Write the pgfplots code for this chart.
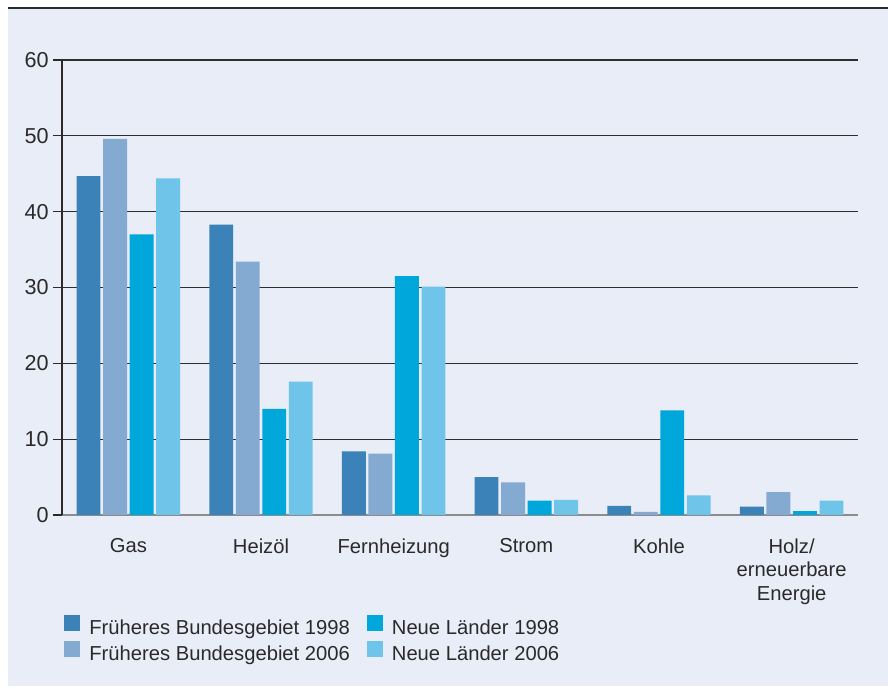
\documentclass[border=0pt]{standalone}
\usepackage{fontspec}
\setmainfont{Liberation Sans}
\usepackage{pgfplots}
\pgfplotsset{compat=1.18}

\definecolor{bg}{HTML}{E9EDF8}
\definecolor{txt}{HTML}{2A2A2A}
\definecolor{gridc}{HTML}{2E2E2E}
\definecolor{basec}{HTML}{8C8C8C}
\definecolor{fbA}{HTML}{3B82B8}
\definecolor{fbB}{HTML}{85AAD2}
\definecolor{nlA}{HTML}{00A7DB}
\definecolor{nlB}{HTML}{6EC5E9}

\newcommand\lbl{\fontsize{10.1}{11.75}\selectfont}
\newcommand\num{\fontsize{10.8}{12}\selectfont}

\begin{document}
\begin{tikzpicture}
\path[use as bounding box] (-31pt,-87pt) rectangle (413pt,257.5pt);
\fill[bg] (-27pt,-85.5pt) rectangle (413pt,253.5pt);
\draw[line width=0.8pt, txt] (-27pt,253.5pt) -- (413pt,253.5pt);
\begin{axis}[
    at={(0pt,0pt)}, anchor=south west,
    scale only axis,
    width=398pt, height=227.5pt,
    ybar,
    xmin=-0.5, xmax=5.5,
    ymin=0, ymax=60,
    xtick={0,1,2,3,4,5},
    xticklabels={Gas, Heizöl, Fernheizung, Strom, Kohle, {Holz/\\erneuerbare\\Energie}},
    ytick={0,10,20,30,40,50,60},
    axis x line=bottom, axis y line=left,
    x axis line style={-, color=basec, line width=1.1pt},
    y axis line style={-, color=txt, line width=0.6pt},
    xtick style={draw=none},
    ytick style={color=txt, line width=0.6pt},
    tick align=outside,
    major tick length=4.5pt,
    ymajorgrids,
    grid style={color=gridc, line width=0.6pt},
    /pgf/number format/assume math mode=true,
    tick label style={text=txt},
    xticklabel style={font=\lbl, align=center, inner sep=0pt, anchor=north, yshift=-7pt},
    yticklabel style={font=\num, inner sep=0pt, anchor=east, xshift=-2pt},
    legend style={
        at={(0.0025,-0.2198)}, anchor=north west,
        draw=none, fill=none, inner sep=0pt,
        font=\lbl, text=txt,
        nodes={inner sep=0pt, text height=7pt, text depth=2pt},
        row sep=1.5pt,
        /tikz/every odd column/.append style={column sep=4.5pt},
        /tikz/every even column/.append style={column sep=8.5pt},
    },
    legend cell align=left,
    legend columns=2,
    transpose legend,
    legend image code/.code={\fill[#1] (0pt,-1pt) rectangle (8pt,7pt);},
]
\addplot[fill=fbA, draw=none, bar width=0.18, bar shift=-0.3]
    coordinates {(0,44.7) (1,38.3) (2,8.4) (3,5.0) (4,1.2) (5,1.1)};
\addplot[fill=fbB, draw=none, bar width=0.18, bar shift=-0.1]
    coordinates {(0,49.6) (1,33.4) (2,8.1) (3,4.3) (4,0.4) (5,3.0)};
\addplot[fill=nlA, draw=none, bar width=0.18, bar shift=0.1]
    coordinates {(0,37.0) (1,14.0) (2,31.5) (3,1.9) (4,13.8) (5,0.5)};
\addplot[fill=nlB, draw=none, bar width=0.18, bar shift=0.3]
    coordinates {(0,44.4) (1,17.6) (2,30.1) (3,2.0) (4,2.6) (5,1.9)};
\legend{Früheres Bundesgebiet 1998, Früheres Bundesgebiet 2006, Neue Länder 1998, Neue Länder 2006}
\end{axis}
\end{tikzpicture}
\end{document}
